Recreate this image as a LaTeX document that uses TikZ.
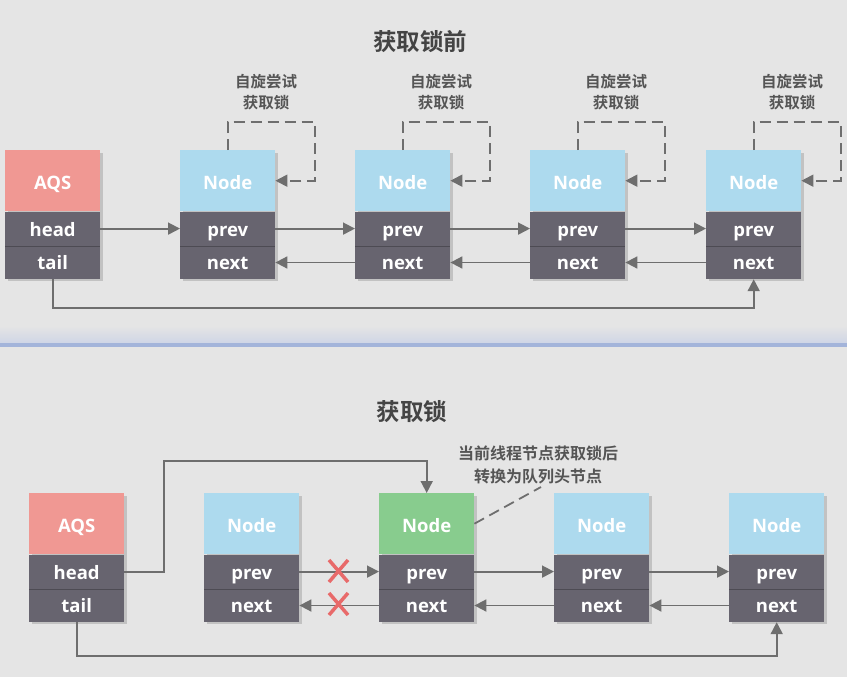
\documentclass[tikz,border=0pt]{standalone}
\usepackage{fontspec}
\setmainfont{Noto Sans CJK SC}[BoldFont={Noto Sans CJK SC Bold}]
\newfontfamily\lat{Open Sans}
\usetikzlibrary{arrows.meta}
\definecolor{bg}{HTML}{E5E5E5}
\definecolor{aqsc}{HTML}{F09893}
\definecolor{bluec}{HTML}{ADDAEE}
\definecolor{greenc}{HTML}{88CC8E}
\definecolor{bodyc}{HTML}{67646F}
\definecolor{linec}{HTML}{6E6E6E}
\definecolor{txtc}{HTML}{555555}
\definecolor{redx}{HTML}{E86A6A}
\definecolor{sepshade}{HTML}{C5CEE6}
\definecolor{sepline}{HTML}{A3B4DA}
\tikzset{
  hdr/.style={anchor=north west, minimum width=95pt, minimum height=61pt, inner sep=0pt, text=white, text height=20pt, text depth=2pt, font=\lat\bfseries\fontsize{18.5}{18}\selectfont},
  cell/.style={anchor=north west, fill=bodyc, minimum width=95pt, inner sep=0pt, text=white, text height=17pt, text depth=2pt, font=\lat\bfseries\fontsize{18.5}{18}\selectfont},
  arr/.style={draw=linec, line width=1.8pt, -{Triangle[length=12pt,width=12pt]}},
  dl/.style={draw=linec, line width=1.8pt, dash pattern=on 11pt off 6pt},
  lbl/.style={align=center, text=txtc, font=\bfseries\fontsize{15.5}{21}\selectfont, inner sep=0pt},
  ttl/.style={text=txtc!80!black, font=\bfseries\fontsize{23.5}{24}\selectfont, inner sep=0pt},
  xl/.style={draw=redx, line width=3.5pt},
}
\newcommand\qstack[7]{%
  \fill[black,opacity=0.15] (#2+3,#3+3) rectangle ++(95,128);
  \node[hdr,fill=#4] (#1) at (#2,#3) {#5};
  \node[cell,minimum height=34pt] (#1p) at (#1.south west) {#6};
  \node[cell,minimum height=33pt,text height=15pt] (#1n) at (#1p.south west) {#7};
  \draw[black!25!bodyc, line width=0.6pt] (#1n.north west) -- (#1n.north east);
}
\begin{document}
\begin{tikzpicture}[x=1pt,y=-1pt]
\fill[bg] (0,0) rectangle (847,677);
\useasboundingbox (0,0) rectangle (847,677);
% separator
\shade[top color=bg, bottom color=sepshade!70!bg] (0,326) rectangle (847,343);
\fill[sepline] (0,343) rectangle (847,347);
% ---------- top ----------
\node[ttl] (t1) at (420,42) {获取锁前};
\qstack{a}{5}{150}{aqsc}{AQS}{head}{tail}
\qstack{n1}{180}{150}{bluec}{Node}{prev}{next}
\qstack{n2}{355}{150}{bluec}{Node}{prev}{next}
\qstack{n3}{530}{150}{bluec}{Node}{prev}{next}
\qstack{n4}{706}{150}{bluec}{Node}{prev}{next}
\draw[arr] (ap.east) -- (n1p.west);
\draw[arr] (n1p.east) -- (n2p.west);
\draw[arr] (n2p.east) -- (n3p.west);
\draw[arr] (n3p.east) -- (n4p.west);
\draw[arr] (n2n.west) -- (n1n.east);
\draw[arr] (n3n.west) -- (n2n.east);
\draw[arr] (n4n.west) -- (n3n.east);
\draw[arr] (an.south) -- ++(0,29) -| (n4n.south);
\foreach \n in {n1,n2,n3,n4}{
  \draw[dl,-{Triangle[length=12pt,width=12pt]}] (\n.north) -- ++(0,-28) -- ++(87,0) |- (\n.east);
  \node[lbl] (\n l) at ([xshift=38.5pt,yshift=57.5pt]\n.north) {自旋尝试\\获取锁};
}
% ---------- bottom ----------
\node[ttl] (t2) at (412,412) {获取锁};
\qstack{b}{29}{493}{aqsc}{AQS}{head}{tail}
\qstack{m1}{204}{493}{bluec}{Node}{prev}{next}
\qstack{m2}{379}{493}{greenc}{Node}{prev}{next}
\qstack{m3}{554}{493}{bluec}{Node}{prev}{next}
\qstack{m4}{729}{493}{bluec}{Node}{prev}{next}
\coordinate (hk) at (164,461);
\draw[arr] (bp.east) -| (hk) -| (m2.north);
\draw[arr] (m1p.east) -- (m2p.west);
\draw[arr] (m2p.east) -- (m3p.west);
\draw[arr] (m3p.east) -- (m4p.west);
\draw[arr] (m2n.west) -- (m1n.east);
\draw[arr] (m3n.west) -- (m2n.east);
\draw[arr] (m4n.west) -- (m3n.east);
\draw[arr] (bn.south) -- ++(0,34) -| (m4n.south);
% red crosses
\draw[xl] (329,560) -- (348,582) (348,560) -- (329,582);
\draw[xl] (329,593) -- (348,615) (348,593) -- (329,615);
% annotation
\node[lbl, font=\bfseries\fontsize{16}{23}\selectfont] (ann) at (538,465) {当前线程节点获取锁后\\转换为队列头节点};
\coordinate (annp) at (541,487);
\draw[dl] (m2.east) -- (annp);
\end{tikzpicture}
\end{document}
